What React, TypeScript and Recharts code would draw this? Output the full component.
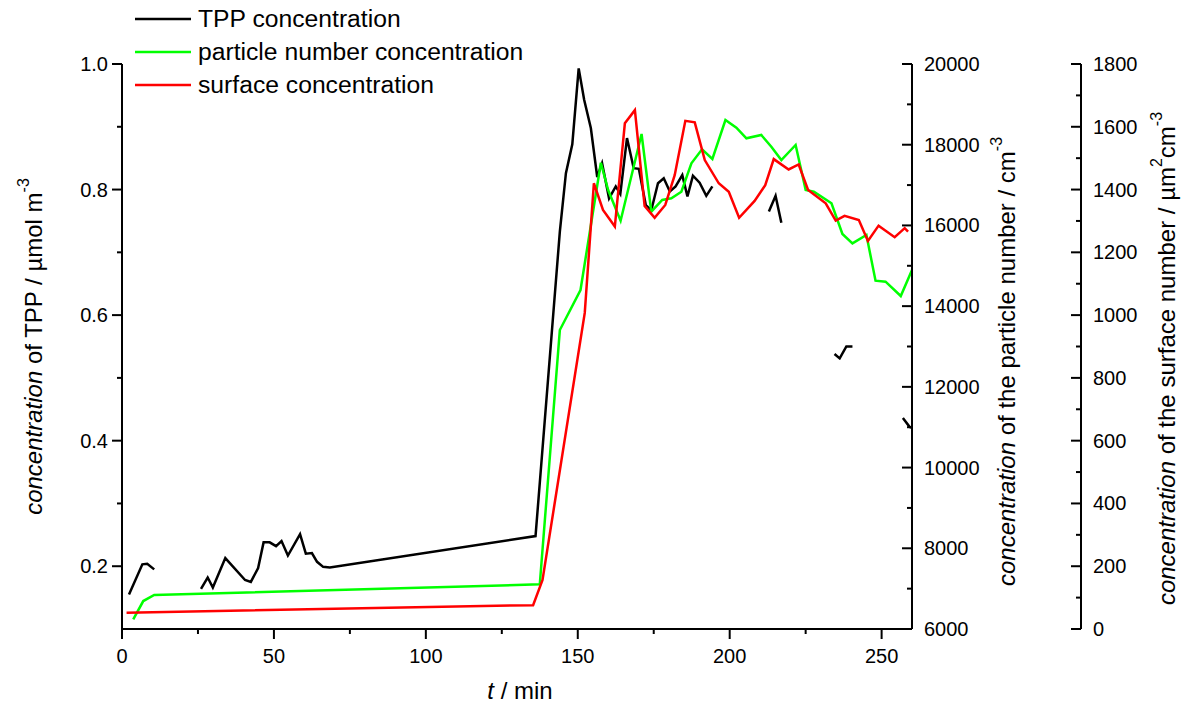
import React from "react";
import { LineChart, Line, XAxis, YAxis, Legend, Label } from "recharts";

const FONT = '"Liberation Sans", Arial, sans-serif';

// TPP concentration (µmol m-3), null = gap in the record
const tppTime = [
  2.3, 6.7, 8.3, 10.6, 18,
  26.0, 28.2, 29.9, 34.0, 40.5, 42.4, 44.8, 46.6, 48.6, 50.7, 52.5, 54.6, 58.6, 60.5, 62.5, 64.2, 66.2, 68.4,
  136.1, 144.1, 146.1, 148.2, 150.3, 152.1, 154.3, 156.4, 158.0, 160.3, 162.5, 164.0, 166.2, 168.4, 170.1,
  172.4, 174.2, 176.4, 178.3, 180.3, 182.2, 184.4, 186.1, 187.9, 190.1, 192.3, 194.3, 203,
  212.9, 215.1, 217.0, 225,
  234.5, 236.2, 238.4, 240.4, 248,
  257.0, 259.2, 259.8,
];
const tppValue = [
  0.155, 0.203, 0.204, 0.195, null,
  0.164, 0.182, 0.166, 0.213, 0.178, 0.175, 0.197, 0.238, 0.238, 0.232, 0.24, 0.217, 0.251, 0.22, 0.221, 0.207, 0.199, 0.198,
  0.248, 0.733, 0.826, 0.872, 0.993, 0.943, 0.898, 0.82, 0.842, 0.786, 0.805, 0.793, 0.882, 0.834, 0.833,
  0.775, 0.767, 0.81, 0.818, 0.797, 0.805, 0.823, 0.789, 0.822, 0.811, 0.79, 0.805, null,
  0.765, 0.79, 0.747, null,
  0.538, 0.531, 0.55, 0.55, null,
  0.436, 0.422, 0.421,
];

// particle number concentration (cm-3)
const numTime = [
  3.7, 7.0, 10.6, 137.5, 144.1, 150.9, 157.6, 160.0, 164.1, 171.0, 174.2, 177.8, 180.8, 184.1, 187.4, 190.9,
  194.3, 198.6, 202.2, 205.5, 210.4, 213.7, 217.0, 221.7, 225.0, 227.7, 233.5, 237.1, 240.4, 245.0, 248.0,
  251.3, 256.3, 260,
];
const numValue = [
  6239, 6693, 6842, 7107, 13408, 14400, 17554, 16878, 16117, 18265, 16340, 16630, 16672, 16836, 17539, 17886,
  17646, 18612, 18422, 18159, 18241, 17951, 17621, 17993, 16878, 16836, 16548, 15787, 15556, 15763, 14630,
  14606, 14251, 14895,
];

// surface concentration (µm2 cm-3)
const surfTime = [
  1.5, 135.3, 138.4, 152.3, 155.3, 158.3, 162.2, 165.5, 168.8, 172.0, 175.3, 178.8, 181.9, 185.4, 188.5, 191.8,
  196.4, 199.7, 203.1, 208.2, 211.7, 214.5, 219.4, 222.7, 225.8, 231.6, 234.9, 237.8, 242.5, 245.5, 249.0,
  254.3, 257.6, 258.7,
];
const surfValue = [
  52, 76, 156, 1007, 1420, 1335, 1282, 1611, 1653, 1348, 1310, 1351, 1446, 1619, 1614, 1494,
  1420, 1393, 1310, 1364, 1414, 1497, 1464, 1480, 1399, 1356, 1301, 1316, 1303, 1236, 1285,
  1248, 1277, 1266,
];

const xTicks = [0, 25, 50, 75, 100, 125, 150, 175, 200, 225, 250];
const tppTicks = [0.2, 0.3, 0.4, 0.5, 0.6, 0.7, 0.8, 0.9, 1.0];
const numTicks = [6000, 7000, 8000, 9000, 10000, 11000, 12000, 13000, 14000, 15000, 16000, 17000, 18000, 19000, 20000];
const surfTicks = [0, 100, 200, 300, 400, 500, 600, 700, 800, 900, 1000, 1100, 1200, 1300, 1400, 1500, 1600, 1700, 1800];

const toRows = (ts: number[], vs: (number | null)[]) => ts.map((t, i) => ({ t, v: vs[i] }));
const tppData = toRows(tppTime, tppValue);
const numData = toRows(numTime, numValue);
const surfData = toRows(surfTime, surfValue);

const isMajor = (v: number, step: number) => Math.abs(v / step - Math.round(v / step)) < 1e-6;

const makeTick = (side: "left" | "right" | "bottom", step: number, fmt: (v: number) => string) => (props: any) => {
  const { x, y, payload } = props;
  const v = payload.value;
  const major = isMajor(v, step);
  const len = major ? 10 : 5;
  if (side === "bottom") {
    return (
      <g>
        <line x1={x} x2={x} y1={y} y2={y + len} stroke="#000" strokeWidth={2} />
        {major && (
          <text x={x} y={y + 27} textAnchor="middle" dominantBaseline="central" fontSize={20} fontFamily={FONT} fill="#000">
            {fmt(v)}
          </text>
        )}
      </g>
    );
  }
  return (
    <g>
      <line x1={x - len} x2={x} y1={y} y2={y} stroke="#000" strokeWidth={2} />
      {major && (
        <text
          x={side === "left" ? x - 14 : x + 12}
          y={y}
          textAnchor={side === "left" ? "end" : "start"}
          dominantBaseline="central"
          fontSize={20}
          fontFamily={FONT}
          fill="#000"
        >
          {fmt(v)}
        </text>
      )}
    </g>
  );
};

const vTitle = (dx: number, dy: number, parts: React.ReactNode) => (props: any) => {
  const vb = props.viewBox;
  const cx = vb.x + dx;
  const cy = vb.y + vb.height / 2 + dy;
  return (
    <text
      x={cx}
      y={cy}
      transform={`rotate(-90, ${cx}, ${cy})`}
      textAnchor="middle"
      dominantBaseline="central"
      fontSize={24}
      fontFamily={FONT}
      fill="#000"
    >
      {parts}
    </text>
  );
};

const renderLegend = (props: any) => (
  <div style={{ fontFamily: FONT, fontSize: 24.7, color: "#000" }}>
    {props.payload.map((e: any) => (
      <div key={e.value} style={{ display: "flex", alignItems: "center", height: 33 }}>
        <svg width={56} height={6} style={{ marginRight: 7 }}>
          <line x1={0} x2={56} y1={3} y2={3} stroke={e.color} strokeWidth={2.5} />
        </svg>
        <span>{e.value}</span>
      </div>
    ))}
  </div>
);

export default function App() {
  return (
    <div style={{ position: "absolute", left: 0, top: 0, background: "#fff" }}>
      <LineChart width={1182} height={708} margin={{ top: 64, right: 0, bottom: 0, left: 0 }}>
        <XAxis
          dataKey="t"
          type="number"
          domain={[0, 260]}
          ticks={xTicks}
          interval={0}
          height={79}
          tickSize={0}
          tickMargin={0}
          tickLine={false}
          axisLine={{ stroke: "#000", strokeWidth: 2 }}
          tick={makeTick("bottom", 50, (v) => String(v))}
        >
          <Label
            content={(p: any) => {
              const vb = p.viewBox;
              return (
                <text x={vb.x + vb.width / 2 + 3} y={vb.y + 61} textAnchor="middle" dominantBaseline="central" fontSize={24} fontFamily={FONT} fill="#000">
                  <tspan fontStyle="italic">t</tspan>
                  <tspan> / min</tspan>
                </text>
              );
            }}
          />
        </XAxis>
        <YAxis
          yAxisId="tpp"
          orientation="left"
          width={122}
          domain={[0.1, 1.0]}
          ticks={tppTicks}
          interval={0}
          tickSize={0}
          tickMargin={0}
          tickLine={false}
          axisLine={{ stroke: "#000", strokeWidth: 2 }}
          tick={makeTick("left", 0.2, (v) => v.toFixed(1))}
        >
          <Label
            content={vTitle(33, 0, [
              <tspan key="c" fontStyle="italic">concentration</tspan>,
              <tspan key="r"> of TPP / µmol m</tspan>,
              <tspan key="s" dy={-10} fontSize={16}>-3</tspan>,
            ])}
          />
        </YAxis>
        <YAxis
          yAxisId="num"
          orientation="right"
          width={169}
          domain={[6000, 20000]}
          ticks={numTicks}
          interval={0}
          tickSize={0}
          tickMargin={0}
          tickLine={false}
          axisLine={{ stroke: "#000", strokeWidth: 2 }}
          tick={makeTick("right", 2000, (v) => String(v))}
        >
          <Label
            content={vTitle(94, 15, [
              <tspan key="c" fontStyle="italic">concentration</tspan>,
              <tspan key="r"> of the particle number / cm</tspan>,
              <tspan key="s" dy={-10} fontSize={16}>-3</tspan>,
            ])}
          />
        </YAxis>
        <YAxis
          yAxisId="surf"
          orientation="right"
          width={101}
          domain={[0, 1800]}
          ticks={surfTicks}
          interval={0}
          tickSize={0}
          tickMargin={0}
          tickLine={false}
          axisLine={{ stroke: "#000", strokeWidth: 2 }}
          tick={makeTick("right", 200, (v) => String(v))}
        >
          <Label
            content={vTitle(85, 12, [
              <tspan key="c" fontStyle="italic">concentration</tspan>,
              <tspan key="r"> of the surface number / µm</tspan>,
              <tspan key="s2" dy={-10} fontSize={16}>2</tspan>,
              <tspan key="cm" dy={10}>cm</tspan>,
              <tspan key="s3" dy={-10} fontSize={16}>-3</tspan>,
            ])}
          />
        </YAxis>
        <Legend
          layout="vertical"
          align="center"
          verticalAlign="middle"
          content={renderLegend}
          wrapperStyle={{ position: "absolute", left: 135, top: 2, width: 440 }}
        />
        <Line
          data={tppData}
          dataKey="v"
          name="TPP concentration"
          yAxisId="tpp"
          type="linear"
          stroke="#000000"
          strokeWidth={2.5}
          dot={false}
          connectNulls={false}
          isAnimationActive={false}
        />
        <Line
          data={numData}
          dataKey="v"
          name="particle number concentration"
          yAxisId="num"
          type="linear"
          stroke="#00ff00"
          strokeWidth={2.5}
          dot={false}
          isAnimationActive={false}
        />
        <Line
          data={surfData}
          dataKey="v"
          name="surface concentration"
          yAxisId="surf"
          type="linear"
          stroke="#ff0000"
          strokeWidth={2.5}
          dot={false}
          isAnimationActive={false}
        />
      </LineChart>
    </div>
  );
}
